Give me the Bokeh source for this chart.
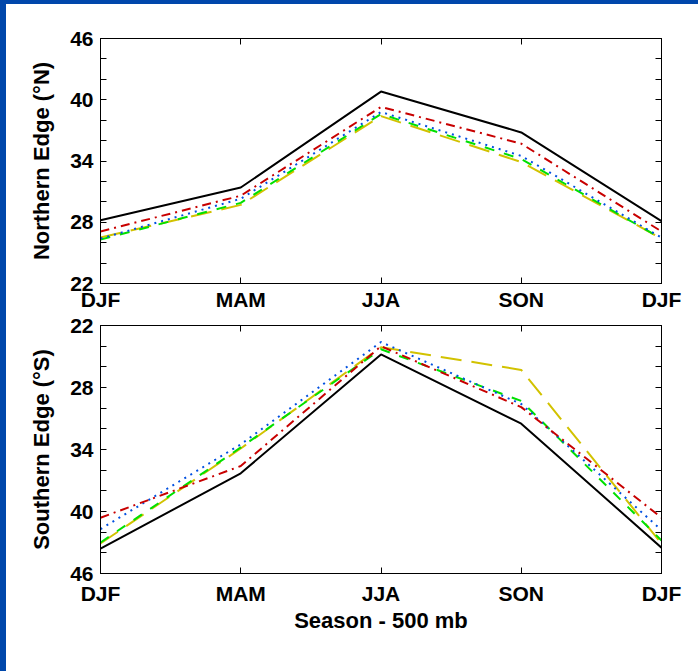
from bokeh.plotting import figure
from bokeh.models import Range1d, FixedTicker, LinearAxis, Spacer
from bokeh.layouts import column, row
from bokeh.embed import file_html
from bokeh.resources import INLINE

seasons = ["DJF", "MAM", "JJA", "SON", "DJF"]
x_pos = [0, 1, 2, 3, 4]

north_black = [28.2, 31.4, 40.8, 36.8, 28.1]
north_red = [27.1, 30.6, 39.3, 35.7, 27.1]
north_blue = [26.4, 30.3, 38.8, 34.5, 26.5]
north_green = [26.3, 29.9, 38.6, 34.2, 26.4]
north_yellow = [26.5, 29.7, 38.4, 33.9, 26.4]

south_black = [43.6, 36.3, 24.8, 31.5, 43.5]
south_red = [40.6, 35.6, 24.0, 29.9, 40.6]
south_blue = [41.7, 33.5, 23.6, 29.6, 41.8]
south_green = [43.0, 33.8, 24.3, 29.3, 42.8]
south_yellow = [43.1, 33.9, 24.1, 26.3, 43.1]

y_major = [22, 28, 34, 40, 46]
y_minor = [24, 26, 30, 32, 36, 38, 42, 44]

FONT = "Liberation Sans"
FS = "21px"
TITLE_FS = "22px"
BLUE_FRAME = "#0047AB"

styles = [
    ("black", "solid", north_black, south_black),
    ("#D2C200", "21 10", north_yellow, south_yellow),
    ("#00E000", "10 10", north_green, south_green),
    ("#0050E0", "2 5", north_blue, south_blue),
    ("#C80000", "9 5 2 5", north_red, south_red),
]

overrides = {i: s for i, s in zip(x_pos, seasons)}


def style_axis(ax, labels=True):
    ax.axis_line_color = "black"
    ax.axis_line_width = 1
    ax.major_tick_in = 6
    ax.major_tick_out = 0
    ax.minor_tick_in = 6
    ax.minor_tick_out = 0
    ax.major_tick_line_color = "black"
    ax.minor_tick_line_color = "black"
    ax.major_label_text_font = FONT
    ax.major_label_text_font_size = FS
    ax.major_label_text_font_style = "bold"
    ax.major_label_text_color = "black"
    ax.axis_label_text_font = FONT
    ax.axis_label_text_font_size = TITLE_FS
    ax.axis_label_text_font_style = "bold"
    ax.axis_label_text_color = "black"
    if not labels:
        ax.major_label_text_color = None
        ax.major_label_standoff = 0


def make_panel(height, border_top, border_bottom, y_range, ylabel, idx,
               label_standoff, xlabel=None):
    p = figure(width=692, height=height, x_range=Range1d(0, 4), y_range=y_range,
               output_backend="svg", toolbar_location=None,
               min_border_left=94, min_border_right=37,
               min_border_top=border_top, min_border_bottom=border_bottom)
    p.xgrid.visible = False
    p.ygrid.visible = False
    p.outline_line_color = "black"
    p.background_fill_color = "white"
    p.border_fill_color = "white"

    p.xaxis.ticker = FixedTicker(ticks=x_pos)
    p.xaxis.major_label_overrides = overrides
    p.yaxis.ticker = FixedTicker(ticks=y_major, minor_ticks=y_minor)
    for ax in p.xaxis + p.yaxis:
        style_axis(ax)
    p.xaxis.minor_tick_in = 0
    p.xaxis.major_label_standoff = label_standoff
    p.yaxis.major_label_standoff = 7
    p.yaxis.axis_label = ylabel
    p.yaxis.axis_label_standoff = 13
    if xlabel:
        p.xaxis.axis_label = xlabel
        p.xaxis.axis_label_standoff = 0

    top = LinearAxis(ticker=FixedTicker(ticks=x_pos))
    style_axis(top, labels=False)
    top.minor_tick_in = 0
    p.add_layout(top, "above")

    right = LinearAxis(ticker=FixedTicker(ticks=y_major, minor_ticks=y_minor))
    style_axis(right, labels=False)
    p.add_layout(right, "right")

    for color, dash, nvals, svals in styles:
        vals = nvals if idx == 0 else svals
        p.line(x_pos, vals, line_color=color, line_width=2, line_dash=dash)
    return p


p_top = make_panel(309, 34, 28, Range1d(22, 46), "Northern Edge (°N)", 0, 4)
p_bot = make_panel(358, 12, 98, Range1d(46, 22), "Southern Edge (°S)", 1, 8,
                   xlabel="Season - 500 mb")

top_band = Spacer(width=698, height=4, styles={"background-color": BLUE_FRAME})
left_band = Spacer(width=6, height=667, styles={"background-color": BLUE_FRAME})
layout = column(top_band, row(left_band, column(p_top, p_bot, spacing=0), spacing=0),
                spacing=0)

open("out.html", "w").write(file_html(layout, INLINE))
